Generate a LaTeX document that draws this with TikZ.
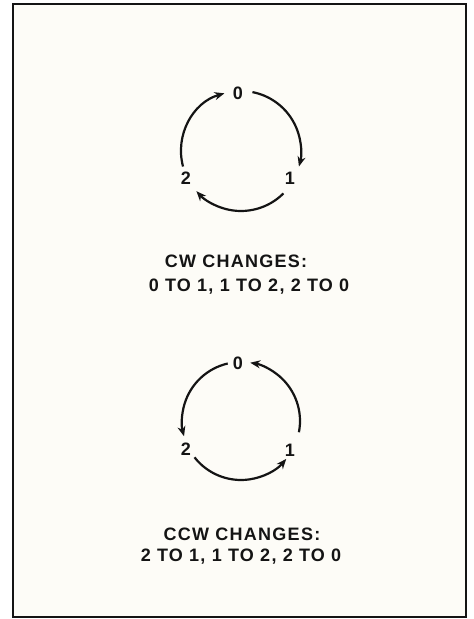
\documentclass[tikz,border=0pt]{standalone}
\usepackage{fontspec}
\newfontfamily\plotfont{Liberation Sans}[LetterSpace=7]
\usepackage{tikz}
\usetikzlibrary{arrows.meta}
\definecolor{inkblack}{RGB}{20,20,20}
\definecolor{paper}{RGB}{253,252,247}

\begin{document}
\begin{tikzpicture}[x=1pt,y=1pt,
    digit/.style={inner sep=0pt,text=inkblack,
                  font=\plotfont\bfseries\fontsize{18}{20}\selectfont},
    caption/.style={inner sep=0pt,text=inkblack,
                    font=\plotfont\bfseries\fontsize{18}{20}\selectfont},
    cycle/.style={-{Stealth[length=10pt,width=8pt]},line width=2.2pt,inkblack}]
  \useasboundingbox (0,0) rectangle (474,619);
  \draw[line width=1.6pt,inkblack,fill=paper] (13,615) rectangle (466,2);

  % clockwise
  \coordinate (cmid) at (241,468);
  \node[digit] (c0) at (238,526) {0};
  \node[digit] (c1) at (290,441) {1};
  \node[digit] (c2) at (186,441) {2};
  \draw[cycle] ([shift={(79:60)}]cmid) arc[start angle=79,end angle=-15,radius=60];
  \draw[cycle] ([shift={(-45:60)}]cmid) arc[start angle=-45,end angle=-138,radius=60];
  \draw[cycle] ([shift={(195:60)}]cmid) arc[start angle=195,end angle=106,radius=60];
  \node[caption] (cwhead) at (236,358) {CW CHANGES:};
  \node[caption] (cwlist) at (249,332) {0 TO 1, 1 TO 2, 2 TO 0};

  % counterclockwise
  \coordinate (dmid) at (241,198);
  \node[digit] (d0) at (238,256) {0};
  \node[digit] (d1) at (290,169) {1};
  \node[digit] (d2) at (186,170) {2};
  \draw[cycle] ([shift={(-11:59)}]dmid) arc[start angle=-11,end angle=81,radius=59];
  \draw[cycle] ([shift={(103:59)}]dmid) arc[start angle=103,end angle=195,radius=59];
  \draw[cycle] ([shift={(218:59)}]dmid) arc[start angle=218,end angle=320,radius=59];
  \node[caption] (ccwhead) at (242,85) {CCW CHANGES:};
  \node[caption] (ccwlist) at (241,62) {2 TO 1, 1 TO 2, 2 TO 0};
\end{tikzpicture}
\end{document}
